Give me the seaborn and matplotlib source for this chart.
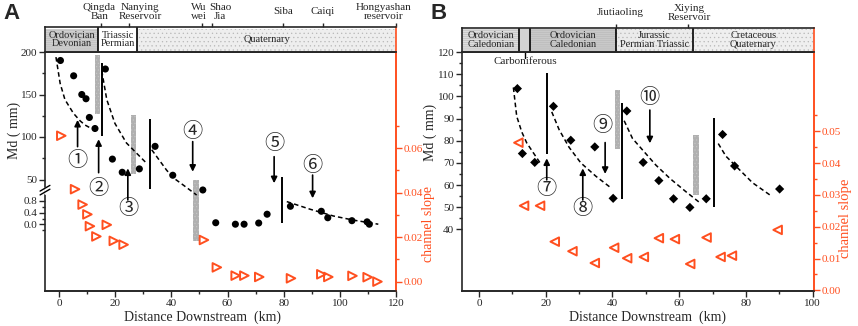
import numpy as np
import seaborn as sns
import matplotlib.pyplot as plt

sns.set_style("ticks")
plt.rcParams['font.family'] = ['Liberation Serif', 'Noto Sans CJK JP']
plt.rcParams['hatch.linewidth'] = 0.4
plt.rcParams['axes.linewidth'] = 1.2

RED = '#FF4F1F'

# ---------------- panel A data ----------------
a_km = [0.5, 5.2, 8.1, 9.6, 10.8, 12.8, 16.5, 19.0, 22.5, 28.6, 34.2, 40.5, 51.2,
        55.8, 62.8, 65.9, 71.1, 74.1, 82.4, 93.4, 95.7, 104.3, 109.7, 110.5]
a_md = [190, 172, 150, 145, 123, 110, 180, 74, 58.5, 62.5, 89, 55, 26,
        0.06, 0.01, 0.01, 0.05, 0.35, 0.62, 0.45, 0.23, 0.13, 0.09, 0.01]
a_slope_km = [0.8, 5.7, 8.4, 10.1, 11.0, 13.3, 17.0, 19.5, 23.0, 51.6, 56.2, 62.9,
              66.0, 71.3, 82.6, 93.4, 95.9, 104.5, 109.9, 113.4]
a_slope = [0.0655, 0.0415, 0.0346, 0.0302, 0.0249, 0.0203, 0.0255, 0.0183, 0.0166,
           0.0187, 0.0064, 0.0027, 0.0027, 0.0021, 0.0015, 0.0033, 0.0021, 0.0026,
           0.0020, 0.0]
a_fit_km = [[-1.1, 0.4, 2.1, 5.1, 7.5, 9.3, 11.5],
            [15.2, 17.0, 19.9, 24.0, 27.0, 31.2],
            [33.0, 38.3, 40.7, 44.3, 49.0],
            [81.1, 89.4, 97.7, 104.8, 113.7]]
a_fit_md = [[194, 163, 144, 128, 119, 114, 110],
            [178, 144, 116, 93, 83, 69],
            [85, 61, 52, 37, 14.5],
            [0.78, 0.52, 0.29, 0.15, 0.01]]
a_vline_km = [15.2, 32.3, 79.4]
a_vline_lo = [101, 27.6, 0.065]
a_vline_hi = [187, 120.8, 52.6]
a_bar_km = [13.65, 26.45, 48.85]
a_bar_w = [1.9, 1.9, 2.1]
a_bar_lo = [127, 56.5, -0.55]
a_bar_hi = [196.5, 126, 48.5]

# ---------------- panel B data ----------------
b_km = [11.5, 13.0, 16.7, 22.3, 27.5, 34.7, 40.2, 44.3, 49.2, 53.9, 58.3, 63.2,
        68.1, 73.0, 76.6, 90.1]
b_md = [103.5, 74.2, 70.2, 95.5, 80.2, 77.2, 54, 93.4, 70.2, 62, 53.8, 49.9,
        53.8, 82.8, 68.6, 58.2]
b_slope_km = [11.8, 13.5, 18.3, 22.7, 28.0, 34.7, 40.5, 44.4, 49.4, 53.9, 58.7,
              63.3, 68.2, 72.4, 75.8, 89.5]
b_slope = [0.0464, 0.0266, 0.0266, 0.0153, 0.0123, 0.0086, 0.0134, 0.0101,
           0.0105, 0.0164, 0.0161, 0.0083, 0.0166, 0.0105, 0.0109, 0.0190]
b_fit_km = [[10.3, 11.3, 12.8, 14.3, 18.3],
            [21.8, 24.0, 27.0, 30.5, 35.0, 39.3],
            [43.5, 46.0, 49.2, 53.0, 57.2, 62.0, 66.2],
            [71.7, 74.0, 77.2, 82.0, 87.2]]
b_fit_md = [[104, 91, 84, 79, 70],
            [93, 85, 77, 70, 64, 59],
            [89, 81, 75.5, 69, 63, 57, 52],
            [78.7, 73, 68.2, 61, 55.5]]
b_vline_km = [20.3, 42.9, 70.5]
b_vline_lo = [74.2, 53.5, 50]
b_vline_hi = [110.5, 96.8, 90.4]
b_bar_km = [41.5, 65.0]
b_bar_w = [1.4, 1.6]
b_bar_lo = [76.3, 55.5]
b_bar_hi = [103, 82.5]

# geology bands
a_band_edges = [-5, 14, 27.8, 120]
a_band_text = ['Ordovician\nDevonian', 'Triassic\nPermian', 'Quaternary']
a_band_fc = ['#cfcfcf', 'white', '#eeeeee']
a_band_hatch = ['-' * 8, None, '....']
b_band_edges = [-5.1, 12.1, 15.3, 41, 64, 100.4]
b_band_text = ['Ordovician\nCaledonian', '', 'Ordovician\nCaledonian',
               'Jurassic\nPermian Triassic', 'Cretaceous\nQuaternary']
b_band_fc = ['#dedede', '#d2d2d2', '#c9c9c9', '#ebebeb', '#efefef']
b_band_hatch = ['-' * 8, None, '-' * 8, '....', '....']

a_place_tick = [15, 25, 50.8, 54.5, 79.9, 93.9, 120]
a_place_x = [14.4, 28.8, 49.9, 57.3, 79.8, 93.7, 115.4]
a_place = ['Qingda\nBan', 'Nanying\nReservoir', 'Wu\nwei', 'Shao\nJia', 'Siba',
           'Caiqi', 'Hongyashan\nreservoir']
b_place_tick = [41, 62.6]
b_place_x = [42.3, 63]
b_place = ['Jiutiaoling', 'Xiying\nReservoir']

# circled labels: text, label x, label y, arrow x, tail y, head y (axes fraction in y)
a_marks = [('①', 6.6, 0.54, 6.6, 0.604, 0.716), ('②', 14.1, 0.426, 14.1, 0.495, 0.635),
           ('③', 24.5, 0.339, 24.5, 0.381, 0.513), ('④', 47.6, 0.662, 47.6, 0.625, 0.499),
           ('⑤', 76.6, 0.611, 76.6, 0.562, 0.451), ('⑥', 90.3, 0.523, 90.3, 0.485, 0.388)]
b_marks = [('⑦', 20.3, 0.4255, 20.3, 0.465, 0.555), ('⑧', 31.1, 0.339, 31.1, 0.381, 0.513),
           ('⑨', 37.1, 0.69, 37.8, 0.621, 0.490), ('⑩', 51.0, 0.805, 51.2, 0.757, 0.618)]

# broken Md axis for panel A
MD_K = [-2.264, 0.8, 50, 200]
PX_K = [0, 90, 111.5, 239]


def fwd(v):
    v = np.asarray(v, float)
    u = np.interp(v, MD_K, PX_K)
    u = np.where(v < MD_K[0], (v - MD_K[0]) * 29.375, u)
    u = np.where(v > MD_K[-1], PX_K[-1] + (v - MD_K[-1]) * 0.85, u)
    return u


def inv(u):
    u = np.asarray(u, float)
    v = np.interp(u, PX_K, MD_K)
    v = np.where(u < PX_K[0], MD_K[0] + u / 29.375, v)
    v = np.where(u > PX_K[-1], MD_K[-1] + (u - PX_K[-1]) / 0.85, v)
    return v


W, H = 858, 326


def box(l, t, r, b):
    return [l / W, 1 - b / H, (r - l) / W, (b - t) / H]


fig = plt.figure(figsize=(8.58, 3.26), dpi=100)
axA = fig.add_axes(box(45, 52, 396, 291))
bandA = fig.add_axes(box(45, 27, 396, 52))
axB = fig.add_axes(box(462, 52, 814, 291))
bandB = fig.add_axes(box(462, 27.5, 814, 52))


def style_main(ax, ax2):
    ax.tick_params(which='both', direction='out', width=1, labelsize=8, pad=1.5)
    ax.tick_params(which='major', length=4)
    ax.tick_params(which='minor', length=2)
    ax.tick_params(axis='y', which='both', right=False)
    ax2.tick_params(which='both', direction='out', width=1, labelsize=8, pad=1.5,
                    colors=RED)
    ax2.tick_params(which='major', length=4)
    ax2.tick_params(which='minor', length=2)
    ax2.spines['right'].set_color(RED)
    ax.spines['right'].set_color(RED)
    ax2.spines['left'].set_visible(False)
    ax2.yaxis.label.set_color(RED)


def draw_band(band, edges, fcs, hatches, texts, xlim, ticks, place_x, places):
    band.set_xlim(*xlim)
    band.set_ylim(0, 1)
    band.set_yticks([])
    for i in range(len(edges) - 1):
        band.axvspan(edges[i], edges[i + 1], ymin=0.06, ymax=0.94, facecolor=fcs[i],
                     hatch=hatches[i], edgecolor='#b8b8b8', lw=0)
        if i > 0:
            band.axvline(edges[i], color='k', lw=1.2)
        band.text((edges[i] + edges[i + 1]) / 2, 0.5, texts[i], ha='center',
                  va='center', fontsize=7.5, linespacing=0.95)
    band.spines['right'].set_color(RED)
    band.xaxis.tick_top()
    band.set_xticks(ticks)
    band.tick_params(axis='x', top=True, bottom=False, labeltop=False,
                     labelbottom=False, direction='out', length=3, width=1)
    for x, t in zip(place_x, places):
        band.text(x, 1.6, t, ha='center', va='center', fontsize=8, linespacing=0.95)


def draw_marks(ax, marks):
    tr = ax.get_xaxis_transform()
    for t, lx, ly, ax_x, y0, y1 in marks:
        ax.text(lx, ly, t, transform=tr, ha='center', va='center', fontsize=14.5)
        ax.annotate('', xy=(ax_x, y1), xytext=(ax_x, y0), xycoords=tr, textcoords=tr,
                    arrowprops=dict(arrowstyle='-|>', color='k', lw=1.2,
                                    mutation_scale=9, shrinkA=0, shrinkB=0))


# ---------------- panel A ----------------
axA.set_yscale('function', functions=(fwd, inv))
axA.set_xlim(-5, 120)
axA.set_ylim(MD_K[0], 200)
axA2 = axA.twinx()
axA2.set_ylim(-0.0042, 0.1031)

axA.bar(a_bar_km, np.subtract(a_bar_hi, a_bar_lo), bottom=a_bar_lo, width=a_bar_w,
        color='#b0b0b0', hatch='.....', edgecolor='#c8c8c8', lw=0, zorder=2)
axA.vlines(a_vline_km, a_vline_lo, a_vline_hi, color='k', lw=1.4, zorder=2)
for fx, fy in zip(a_fit_km, a_fit_md):
    sns.lineplot(x=fx, y=fy, ax=axA, color='k', lw=1.1, linestyle=(0, (3, 2)),
                 sort=False, estimator=None, zorder=2)
sns.scatterplot(x=a_km, y=a_md, ax=axA, color='k', s=26, edgecolor='none',
                legend=False, zorder=3)
sns.scatterplot(x=a_slope_km, y=a_slope, ax=axA2, marker='>', s=38, color=RED,
                facecolor='none', edgecolor=RED, linewidth=1.4, legend=False)

axA.set_yticks([0, 0.4, 0.8, 50, 100, 150, 200],
               ['0.0', '0.4', '0.8', '50', '100', '150', '200'])
axA.set_yticks([-0.2, 0.2, 0.6, 75, 125, 175], minor=True)
axA.set_xticks(range(0, 121, 20))
axA.set_xticks(range(10, 120, 20), minor=True)
axA2.set_yticks([0, 0.02, 0.04, 0.06], ['0.00', '0.02', '0.04', '0.06'])
axA2.set_yticks([0.01, 0.03, 0.05, 0.07], minor=True)
style_main(axA, axA2)
axA.set_xlabel('Distance Downstream  (km)', fontsize=10)
axA.xaxis.set_label_coords(0.449, -0.08)
axA.set_ylabel('Md ( mm)', fontsize=10)
axA.yaxis.set_label_coords(-0.068, 0.67)
axA2.set_ylabel('channel slope', fontsize=10, color=RED)
axA2.yaxis.set_label_coords(1.074, 0.28)

# axis break marks
for yb in (0.414, 0.43):
    axA.plot([-0.014, 0.014], [yb - 0.012, yb + 0.012], transform=axA.transAxes,
             color='k', lw=1, clip_on=False, zorder=6)
axA.plot([0, 0], [0.412, 0.432], transform=axA.transAxes, color='white', lw=2,
         clip_on=False, zorder=5)

draw_marks(axA, a_marks)
draw_band(bandA, a_band_edges, a_band_fc, a_band_hatch, a_band_text, (-5, 120),
          a_place_tick, a_place_x, a_place)

# ---------------- panel B ----------------
axB.set_xlim(-5.1, 100.4)
axB.set_ylim(12.2, 120)
axB2 = axB.twinx()
axB2.set_ylim(-0.0002, 0.0749)

axB.bar(b_bar_km, np.subtract(b_bar_hi, b_bar_lo), bottom=b_bar_lo, width=b_bar_w,
        color='#b0b0b0', hatch='.....', edgecolor='#c8c8c8', lw=0, zorder=2)
axB.vlines(b_vline_km, b_vline_lo, b_vline_hi, color='k', lw=1.4, zorder=2)
for fx, fy in zip(b_fit_km, b_fit_md):
    sns.lineplot(x=fx, y=fy, ax=axB, color='k', lw=1.1, linestyle=(0, (3, 2)),
                 sort=False, estimator=None, zorder=2)
sns.scatterplot(x=b_km, y=b_md, ax=axB, color='k', marker='D', s=22,
                edgecolor='none', legend=False, zorder=3)
sns.scatterplot(x=b_slope_km, y=b_slope, ax=axB2, marker='<', s=38, color=RED,
                facecolor='none', edgecolor=RED, linewidth=1.4, legend=False)

axB.set_yticks(range(40, 121, 10))
axB.set_yticks(range(45, 120, 10), minor=True)
axB.set_xticks(range(0, 101, 20))
axB.set_xticks(range(10, 100, 20), minor=True)
axB2.set_yticks([0, 0.01, 0.02, 0.03, 0.04, 0.05],
                ['0.00', '0.01', '0.02', '0.03', '0.04', '0.05'])
axB2.set_yticks([0.005, 0.015, 0.025, 0.035, 0.045, 0.055], minor=True)
style_main(axB, axB2)
axB.set_xlabel('Distance Downstream  (km)', fontsize=10)
axB.xaxis.set_label_coords(0.528, -0.08)
axB.set_ylabel('Md ( mm)', fontsize=10)
axB.yaxis.set_label_coords(-0.071, 0.665)
axB2.set_ylabel('channel slope', fontsize=10.5, color=RED)
axB2.yaxis.set_label_coords(1.071, 0.305)

draw_marks(axB, b_marks)
draw_band(bandB, b_band_edges, b_band_fc, b_band_hatch, b_band_text, (-5.1, 100.4),
          b_place_tick, b_place_x, b_place)
axB.axvline(13.8, ymin=0.975, ymax=1.0, color='k', lw=1)
axB.text(13.8, 0.962, 'Carboniferous', transform=axB.get_xaxis_transform(),
         ha='center', va='center', fontsize=8)

fig.text(3 / W, 1 - 3 / H, 'A', fontsize=16, fontweight='bold',
         family='Liberation Sans', va='top')
fig.text(430 / W, 1 - 3 / H, 'B', fontsize=16, fontweight='bold',
         family='Liberation Sans', va='top')

fig.savefig('out.png', dpi=100)
